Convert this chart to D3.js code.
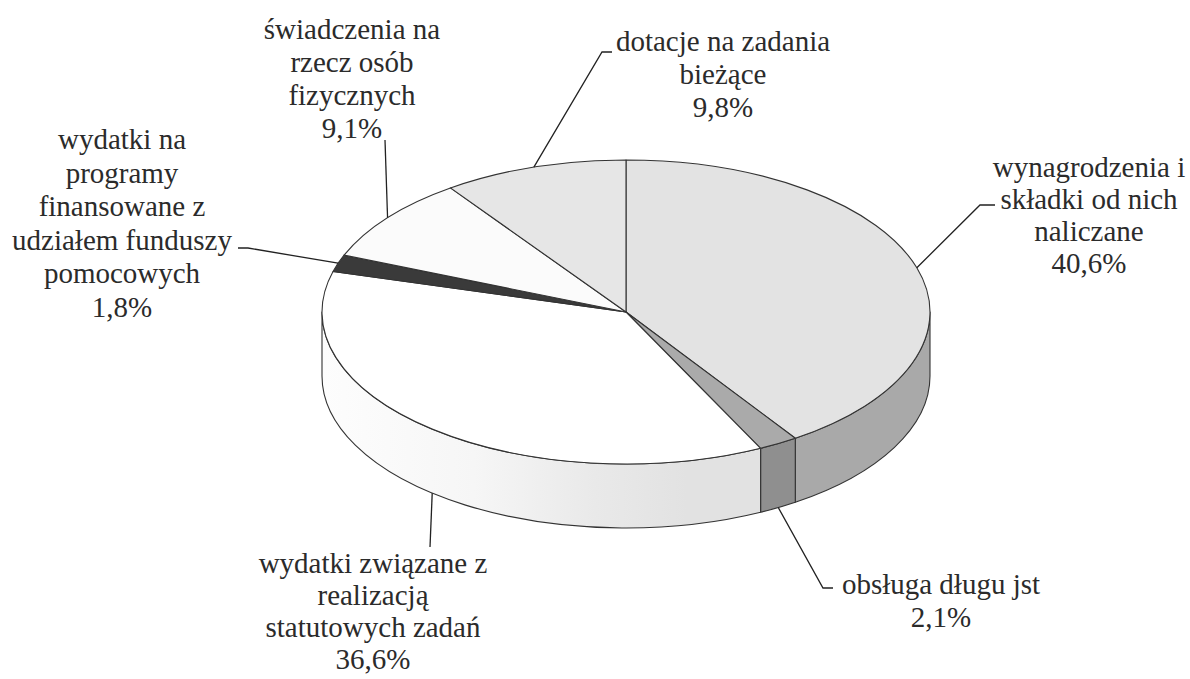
<!DOCTYPE html>
<html>
<head>
<meta charset="utf-8">
<script src="https://cdn.jsdelivr.net/npm/d3@7"></script>
<style>
  body { margin: 0; background: #fff; }
</style>
</head>
<body>
<svg id="chart" width="1190" height="679"></svg>
<script>
// data, clockwise from 12 o'clock
var categories = [
  "wynagrodzenia i składki od nich naliczane",
  "obsługa długu jst",
  "wydatki związane z realizacją statutowych zadań",
  "wydatki na programy finansowane z udziałem funduszy pomocowych",
  "świadczenia na rzecz osób fizycznych",
  "dotacje na zadania bieżące"
];
var values = [40.6, 2.1, 36.6, 1.8, 9.1, 9.8];
var labelLines = [
  ["wynagrodzenia i", "składki od nich", "naliczane", "40,6%"],
  ["obsługa długu jst", "2,1%"],
  ["wydatki związane z", "realizacją", "statutowych zadań", "36,6%"],
  ["wydatki na", "programy", "finansowane z", "udziałem funduszy", "pomocowych", "1,8%"],
  ["świadczenia na", "rzecz osób", "fizycznych", "9,1%"],
  ["dotacje na zadania", "bieżące", "9,8%"]
];

// look
var topColors  = ["#e3e3e3", "#aaaaaa", "#ffffff", "#3a3a3a", "#fbfbfb", "#e6e6e6"];
var sideColors = ["#a9a9a9", "#8f8f8f", "url(#sideGrad)", "#2a2a2a", "#e8e8e8", "#cfcfcf"];

// layout of labels: text centre x, first line y, line step, leader bend points, leader from base?
var labelPos = [
  {x: 1089, y: 168, step: 32, pts: [[980, 205], [995, 205]], base: false},
  {x: 941,  y: 585, step: 33, pts: [[823, 588], [833, 588]], base: true},
  {x: 373,  y: 564, step: 32, pts: [[430, 547]], base: true},
  {x: 122,  y: 140, step: 33.5, pts: [[248, 248], [238, 248]], base: false},
  {x: 352,  y: 30,  step: 33, pts: [[385, 140]], base: false},
  {x: 723,  y: 42,  step: 33, pts: [[602, 52], [612, 52]], base: false}
];

var cx = 626, cy = 312, rx = 304, ry = 152, depth = 64;
var fontFam = "'Liberation Serif', Tinos, 'Times New Roman', Times, 'Nimbus Roman', 'Noto Serif', 'DejaVu Serif', FreeSerif, serif";

var svg = d3.select("#chart");

var defs = svg.append("defs");
var g1 = defs.append("linearGradient").attr("id", "sideGrad")
  .attr("gradientUnits", "userSpaceOnUse")
  .attr("x1", cx - rx).attr("x2", cx + rx).attr("y1", 0).attr("y2", 0);
g1.append("stop").attr("offset", "0").attr("stop-color", "#fdfdfd");
g1.append("stop").attr("offset", "0.25").attr("stop-color", "#f6f6f6");
g1.append("stop").attr("offset", "0.45").attr("stop-color", "#e9e9e9");
g1.append("stop").attr("offset", "0.6").attr("stop-color", "#e2e2e2");

var color = d3.scaleOrdinal().domain(categories).range(topColors);
var sideColor = d3.scaleOrdinal().domain(categories).range(sideColors);

var pie = d3.pie().sort(null).value(function(d, i) { return values[i]; });
var arcs = pie(categories);

function pt(a, dz) {
  return [cx + rx * Math.sin(a), cy - ry * Math.cos(a) + (dz || 0)];
}

function topPath(d) {
  var p0 = pt(d.startAngle), p1 = pt(d.endAngle);
  var large = (d.endAngle - d.startAngle) > Math.PI ? 1 : 0;
  return "M" + cx + "," + cy + "L" + p0 + "A" + rx + "," + ry + " 0 " + large + " 1 " + p1 + "Z";
}

function sidePath(d) {
  var s = Math.max(d.startAngle, Math.PI / 2), e = Math.min(d.endAngle, Math.PI * 1.5);
  if (e <= s) return null;
  var a = pt(s), b = pt(e), c = pt(e, depth), f = pt(s, depth);
  return "M" + a + "A" + rx + "," + ry + " 0 0 1 " + b + "L" + c +
    "A" + rx + "," + ry + " 0 0 0 " + f + "Z";
}

svg.append("g").selectAll("path")
  .data(arcs.filter(function(d) { return sidePath(d); }))
  .enter().append("path")
  .attr("d", sidePath)
  .style("fill", function(d) { return sideColor(d.data); })
  .style("stroke", "#333")
  .style("stroke-width", 1.1)
  .style("stroke-linejoin", "round");

svg.append("g").selectAll("path")
  .data(arcs)
  .enter().append("path")
  .attr("d", topPath)
  .style("fill", function(d) { return color(d.data); })
  .style("stroke", "#333")
  .style("stroke-width", 1.1)
  .style("stroke-linejoin", "round");

// leader lines
svg.append("g").selectAll("path")
  .data(arcs)
  .enter().append("path")
  .attr("d", function(d, i) {
    var mid = (d.startAngle + d.endAngle) / 2;
    var lp = labelPos[i];
    var start = pt(mid, lp.base ? depth : 0);
    return d3.line()([start].concat(lp.pts));
  })
  .style("fill", "none")
  .style("stroke", "#222")
  .style("stroke-width", 1.3);

// labels
var labels = svg.append("g").selectAll("text")
  .data(arcs)
  .enter().append("text")
  .attr("text-anchor", "middle")
  .attr("font-size", 29)
  .attr("fill", "#2b2b2b")
  .style("font-family", fontFam)
  .attr("x", function(d, i) { return labelPos[i].x; })
  .attr("y", function(d, i) { return labelPos[i].y; });

labels.each(function(d, i) {
  var t = d3.select(this);
  labelLines[i].forEach(function(line, j) {
    t.append("tspan")
      .attr("x", labelPos[i].x)
      .attr("y", labelPos[i].y + j * labelPos[i].step)
      .attr("dy", "0.32em")
      .text(line);
  });
});
</script>
</body>
</html>
